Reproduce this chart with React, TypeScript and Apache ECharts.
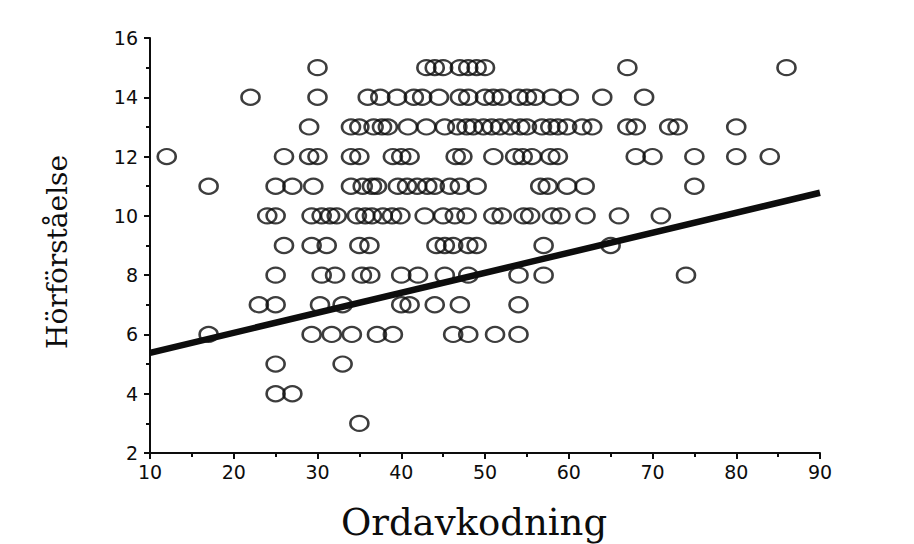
import React, { useEffect, useRef } from "react";
import * as echarts from "echarts";

// Ordavkodning (x) values, grouped by Hörförståelse (y) level
const xAtY15 = [30, 43, 44, 45, 47, 48, 49, 50, 67, 86];
const xAtY14 = [22, 30, 36, 37.5, 39.5, 41.5, 42.5, 44.5, 47, 48, 50, 51, 52, 54, 55, 56, 58, 60, 64, 69];
const xAtY13 = [29, 34, 35, 36.7, 37.7, 38.4, 40.8, 43, 45.2, 46.7, 47.8, 48.6, 49.8, 50.8, 51.8, 53, 54.2, 55, 56.8, 57.8, 58.7, 59.8, 61.6, 62.8, 67, 68, 72, 73, 80];
const xAtY12 = [12, 26, 29, 30, 34, 35, 39, 40, 41, 46.5, 47.3, 51, 53.6, 54.5, 55.6, 57.8, 58.7, 68, 70, 75, 80, 84];
const xAtY11 = [17, 25, 27, 29.5, 34, 35.4, 36.5, 37.1, 39.6, 40.7, 41.9, 43.1, 44, 45.8, 47, 49, 56.6, 57.5, 59.8, 61.9, 75];
const xAtY10 = [24, 25, 29.3, 30.5, 31.5, 32.3, 34.7, 35.7, 36.5, 37.8, 38.9, 39.9, 42.8, 45, 46.4, 47.8, 51, 52, 54.6, 55.4, 58, 59, 62, 66, 71];
const xAtY9 = [26, 29.3, 31.1, 35, 36.2, 44.2, 45.2, 46.2, 48, 49, 57, 65];
const xAtY8 = [25, 30.5, 32.1, 35.3, 36.3, 40, 42, 45.2, 48, 54, 57, 74];
const xAtY7 = [23, 25, 30.3, 33, 40, 41, 44, 47, 54];
const xAtY6 = [17, 29.3, 31.7, 34.1, 37.1, 39, 46.2, 48, 51.2, 54];
const xAtY5 = [25, 33];
const xAtY4 = [25, 27];
const xAtY3 = [35];

const rows: [number, number[]][] = [
  [15, xAtY15], [14, xAtY14], [13, xAtY13], [12, xAtY12], [11, xAtY11],
  [10, xAtY10], [9, xAtY9], [8, xAtY8], [7, xAtY7], [6, xAtY6],
  [5, xAtY5], [4, xAtY4], [3, xAtY3],
];

// Regression line end points [x, y]
const regressionStart = [10, 5.38];
const regressionEnd = [90, 10.78];

const xTitle = "Ordavkodning";
const yTitle = "Hörförståelse";

export default function App() {
  const ref = useRef<HTMLDivElement>(null);
  useEffect(() => {
    if (!ref.current) return;
    const chart = echarts.init(ref.current, null, { renderer: "svg" });
    const points: number[][] = [];
    rows.forEach(([y, xs]) => xs.forEach((x) => points.push([x, y])));
    const ink = "#0d0d0d";
    const tickFont = { color: ink, fontFamily: "DejaVu Sans", fontSize: 19 };
    chart.setOption({
      animation: false,
      backgroundColor: "#ffffff",
      grid: { left: 150, right: 94, top: 38, bottom: 91, containLabel: false },
      xAxis: {
        type: "value",
        min: 10,
        max: 90,
        interval: 10,
        axisLine: { show: true, onZero: false, lineStyle: { color: ink, width: 2 } },
        axisTick: { show: true, inside: false, length: 6, lineStyle: { color: ink, width: 2 } },
        minorTick: { show: true, splitNumber: 2, length: 4, lineStyle: { color: ink, width: 2 } },
        splitLine: { show: false },
        axisLabel: { ...tickFont, margin: 9 },
      },
      yAxis: {
        type: "value",
        min: 2,
        max: 16,
        interval: 2,
        axisLine: { show: true, onZero: false, lineStyle: { color: ink, width: 2 } },
        axisTick: { show: true, inside: false, length: 6, lineStyle: { color: ink, width: 2 } },
        minorTick: { show: true, splitNumber: 2, length: 4, lineStyle: { color: ink, width: 2 } },
        splitLine: { show: false },
        axisLabel: { ...tickFont, margin: 12 },
      },
      graphic: [
        {
          type: "text",
          x: 474,
          y: 522,
          style: {
            text: xTitle,
            fill: ink,
            font: "37px 'DejaVu Serif'",
            textAlign: "center",
            textVerticalAlign: "middle",
          },
        },
        {
          type: "text",
          x: 57,
          y: 252,
          rotation: Math.PI / 2,
          style: {
            text: yTitle,
            fill: ink,
            font: "28px 'DejaVu Serif'",
            textAlign: "center",
            textVerticalAlign: "middle",
          },
        },
      ],
      series: [
        {
          type: "scatter",
          data: points,
          symbol: "circle",
          symbolSize: [18, 15],
          itemStyle: { color: "rgba(255,255,255,0)", borderColor: ink, borderWidth: 2.4 },
          z: 2,
        },
        {
          type: "line",
          data: [regressionStart, regressionEnd],
          symbol: "none",
          lineStyle: { color: ink, width: 6.5, cap: "butt" },
          z: 3,
        },
      ],
    });
    return () => chart.dispose();
  }, []);
  return (
    <div
      ref={ref}
      style={{ position: "fixed", left: 0, top: 0, width: 914, height: 544, background: "#fff" }}
    />
  );
}
